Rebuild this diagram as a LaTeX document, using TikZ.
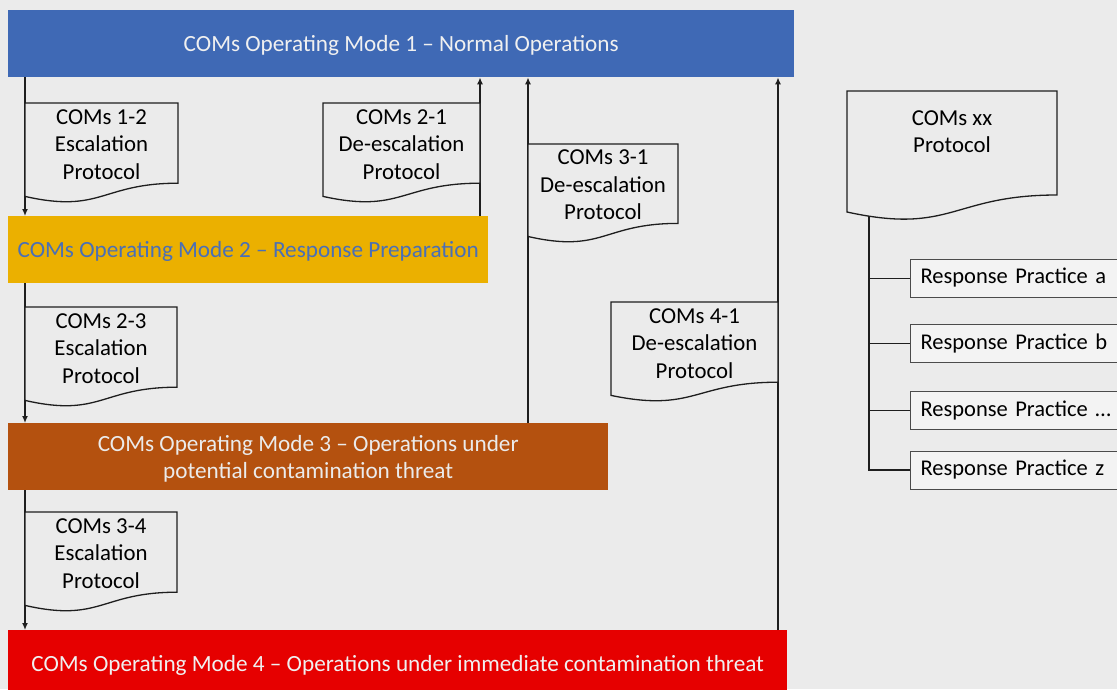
\documentclass[tikz,border=0pt]{standalone}
\usepackage{fontspec}
\setmainfont{Carlito}
\usepackage{tikz}
\usetikzlibrary{arrows.meta}
\usetikzlibrary{math}
\definecolor{bg-color}{HTML}{EBEBEB}
\definecolor{mode-blue}{HTML}{3F69B5}
\definecolor{mode-gold}{HTML}{EBB000}
\definecolor{mode-brown}{HTML}{B4510F}
\definecolor{mode-red}{HTML}{E60000}
\definecolor{text-blue}{HTML}{4A6FB6}
\definecolor{line-gray}{HTML}{1E1E1E}

\tikzset{
    modebox/.style={anchor=north west, minimum height=67, inner sep=0, align=center,
        text depth=0pt, font=\fontsize{23.2}{27.5}\selectfont},
    doctext/.style={align=center, inner sep=0, font=\fontsize{22.8}{27.5}\selectfont},
    docline/.style={line-gray, line width=1.3, fill=bg-color},
    practice/.style={anchor=west, draw=line-gray!80, line width=1, fill=white!40!bg-color,
        minimum height=38, inner xsep=10, text width=215, align=left,
        font=\fontsize{22.5}{27.5}\selectfont},
    flowline/.style={line-gray, line width=1.3},
    flowarrow/.style={flowline, -{Latex[length=7pt,width=6pt]}},
}

% Document shape: name, left, top, width, height, text
\newcommand{\protdoc}[6]{
    \draw[docline] (#2,#3) -- ({#2+#4},#3) -- ({#2+#4},{#3+0.802*#5})
        .. controls ({#2+0.5*#4},{#3+0.802*#5}) and ({#2+0.5*#4},{#3+1.1075*#5}) .. ({#2},{#3+0.934*#5})
        -- cycle;
    \node[doctext] (#1) at ({#2+0.5*#4},{#3+0.4*#5+1.5}) {#6};
}

\begin{document}
\begin{tikzpicture}[x=1pt, y=-1pt]

\useasboundingbox[fill=bg-color] (0,0) rectangle (1117,689);

% Position settings
\tikzmath{
    % Lanes of the connectors
    \xlaneA = 25;
    \xlaneB = 480;
    \xlaneC = 528;
    \xlaneD = 778;
    % Tops of the mode boxes
    \ymodeA = 10;
    \ymodeB = 216;
    \ymodeC = 423;
    \ymodeD = 630;
}
\coordinate (laneA) at (\xlaneA,0);
\coordinate (laneB) at (\xlaneB,0);
\coordinate (laneC) at (\xlaneC,0);
\coordinate (laneD) at (\xlaneD,0);

% Draws the four operating modes
\node[modebox, fill=mode-blue, text=white!94!black, minimum width=786]
    (mode1) at (8,\ymodeA) {COMs Operating Mode 1 -- Normal Operations};
\node[modebox, fill=mode-gold, text=text-blue, minimum width=480]
    (mode2) at (8,\ymodeB) {COMs Operating Mode 2 -- Response Preparation};
\node[modebox, fill=mode-brown, text=white!92!black, minimum width=600]
    (mode3) at (8,\ymodeC) {COMs Operating Mode 3 -- Operations under\\potential contamination threat};
\node[modebox, fill=mode-red, text=white!94!black, minimum width=779]
    (mode4) at (8,\ymodeD) {COMs Operating Mode 4 -- Operations under immediate contamination threat};

% Draws escalation arrows (downwards)
\draw[flowarrow] (mode1.south -| laneA) -- (mode2.north -| laneA);
\draw[flowarrow] (mode2.south -| laneA) -- (mode3.north -| laneA);
\draw[flowarrow] (mode3.south -| laneA) -- (mode4.north -| laneA);

% Draws de-escalation arrows (upwards)
\draw[flowarrow] (mode2.north -| laneB) -- (mode1.south -| laneB);
\draw[flowarrow] (mode3.north -| laneC) -- (mode1.south -| laneC);
\draw[flowarrow] (mode4.north -| laneD) -- (mode1.south -| laneD);

% Draws the protocol documents
\protdoc{doc12}{25}{103}{153}{100}{COMs 1-2\\Escalation\\Protocol}
\protdoc{doc21}{323}{103}{157}{100}{COMs 2-1\\De-escalation\\Protocol}
\protdoc{doc31}{528}{144}{150}{99}{COMs 3-1\\De-escalation\\Protocol}
\protdoc{doc41}{611}{302}{167}{100}{COMs 4-1\\De-escalation\\Protocol}
\protdoc{doc23}{25}{307}{152}{100}{COMs 2-3\\Escalation\\Protocol}
\protdoc{doc34}{25}{512}{152}{100}{COMs 3-4\\Escalation\\Protocol}

% Draws the generic protocol and its response practices
\draw[docline] (847,91) -- (1057,91) -- (1057,195)
    .. controls (952,195) and (952,235) .. (847,212) -- cycle;
\node[doctext, anchor=north] (docxx) at (952,110) {COMs xx\\Protocol};
\coordinate (xxfoot) at (869,216);

\node[practice] (rpa) at (910,278) {Response Practice a};
\node[practice] (rpb) at (910,343.5) {Response Practice b};
\node[practice] (rpdots) at (910,410.5) {Response Practice \dots};
\node[practice] (rpz) at (910,470) {Response Practice z};

\draw[flowline] (xxfoot) |- (rpz.west);
\draw[flowline, line width=1] (xxfoot |- rpa.west) -- (rpa.west);
\draw[flowline] (xxfoot |- rpb.west) -- (rpb.west);
\draw[flowline] (xxfoot |- rpdots.west) -- (rpdots.west);

\end{tikzpicture}
\end{document}
